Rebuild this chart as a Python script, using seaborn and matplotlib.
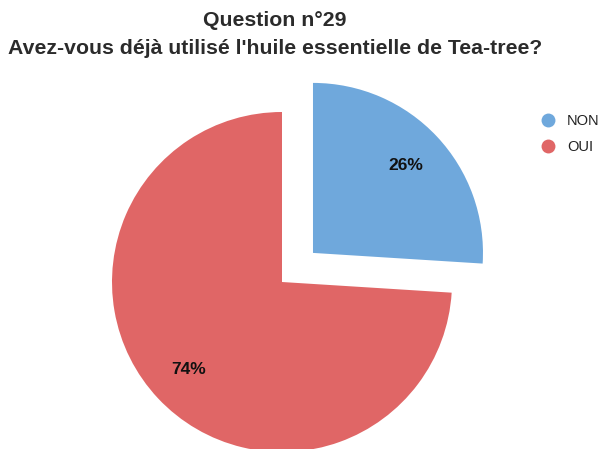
import matplotlib
matplotlib.use("Agg")
import matplotlib.pyplot as plt
from matplotlib.lines import Line2D
import seaborn as sns

# Data
labels = ["NON", "OUI"]
values = [26, 74]
colors = ["#6FA8DC", "#E06666"]

sns.set_theme(style="white")
plt.rcParams["font.family"] = ["Liberation Sans", "DejaVu Sans"]

fig = plt.figure(figsize=(6, 4.49), dpi=100)
# axes sized so that one data unit is ~170 px, pie centred at (282, 282) from top-left
ax = fig.add_axes([44 / 600, -71 / 449, 476 / 600, 476 / 449])

wedges, texts, autotexts = ax.pie(
    values,
    colors=colors,
    startangle=90,
    counterclock=False,
    explode=[0.25, 0],
    autopct="%d%%",
    pctdistance=0.75,
    wedgeprops=dict(linewidth=0),
    textprops=dict(fontsize=12.5, fontweight="bold", color="#111111"),
    frame=True,
)
ax.set_xlim(-1.4, 1.4)
ax.set_ylim(-1.4, 1.4)
ax.set_aspect("equal")
ax.axis("off")

fig.text(0.458, 1 - 20 / 449, "Question n°29", ha="center", va="center",
         fontsize=15.3, fontweight="bold", color="#2b2b2b")
fig.text(0.458, 1 - 48 / 449, "Avez-vous déjà utilisé l'huile essentielle de Tea-tree?",
         ha="center", va="center", fontsize=15.3, fontweight="bold", color="#2b2b2b")

handles = [Line2D([0], [0], marker="o", linestyle="", markersize=10,
                  markerfacecolor=c, markeredgewidth=0) for c in colors]
fig.legend(handles, labels, loc="upper left", bbox_to_anchor=(526 / 600, 1 - 101 / 449),
           frameon=False, fontsize=10.5, handletextpad=0.7, handlelength=1.2,
           labelspacing=0.8, labelcolor="#222222")

fig.savefig("out.png", dpi=100)
